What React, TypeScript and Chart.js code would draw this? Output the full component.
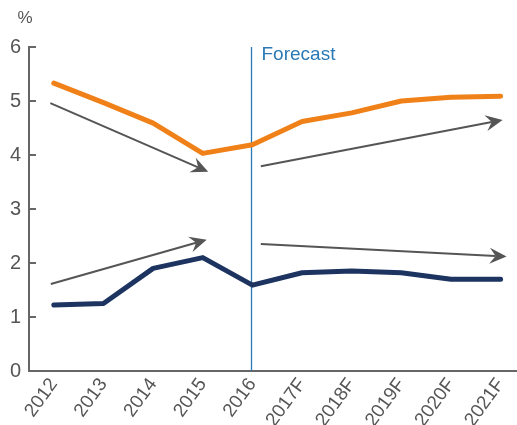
import React, { useEffect, useRef } from "react";
import { Chart, registerables } from "chart.js";

Chart.register(...registerables);

const years = ["2012", "2013", "2014", "2015", "2016", "2017F", "2018F", "2019F", "2020F", "2021F"];
const orangeValues = [5.33, 4.97, 4.59, 4.03, 4.19, 4.62, 4.78, 5.0, 5.07, 5.09];
const navyValues = [1.22, 1.25, 1.9, 2.1, 1.59, 1.82, 1.85, 1.82, 1.7, 1.7];
const yTickValues = [0, 1, 2, 3, 4, 5, 6];

const arrowStartX = [-0.07, 4.17, -0.06, 4.17];
const arrowStartY = [4.96, 3.79, 1.61, 2.35];
const arrowEndX = [3.11, 9.04, 3.08, 9.12];
const arrowEndY = [3.69, 4.65, 2.43, 2.12];

const forecastIndex = 4;
const forecastLabel = "Forecast";
const unitLabel = "%";

const FONT = "'Liberation Sans', Arial, Helvetica, sans-serif";
const AXIS_COLOR = "#666666";
const TEXT_COLOR = "#555555";
const ARROW_COLOR = "#555555";
const FORECAST_COLOR = "#2a7ab5";

const overlayPlugin = {
  id: "overlay",
  beforeDatasetsDraw(chart: any) {
    const { ctx, chartArea, scales } = chart;
    const xs = scales.x;
    const ys = scales.y;
    ctx.save();
    const fx = Math.round(xs.getPixelForValue(forecastIndex)) - 0.5;
    ctx.strokeStyle = FORECAST_COLOR;
    ctx.lineWidth = 1.3;
    ctx.beginPath();
    ctx.moveTo(fx, chartArea.top);
    ctx.lineTo(fx, chartArea.bottom);
    ctx.stroke();
    ctx.fillStyle = FORECAST_COLOR;
    ctx.font = `19px ${FONT}`;
    ctx.textAlign = "left";
    ctx.textBaseline = "middle";
    ctx.fillText(forecastLabel, fx + 10, chartArea.top + 8);
    ctx.fillStyle = TEXT_COLOR;
    ctx.font = `17px ${FONT}`;
    ctx.textAlign = "center";
    ctx.fillText(unitLabel, 25, 18);
    ctx.strokeStyle = AXIS_COLOR;
    ctx.lineWidth = 2;
    for (const v of yTickValues) {
      const y = Math.round(ys.getPixelForValue(v));
      ctx.beginPath();
      ctx.moveTo(chartArea.left, y);
      ctx.lineTo(chartArea.left + 7, y);
      ctx.stroke();
    }
    ctx.restore();
  },
  afterDatasetsDraw(chart: any) {
    const { ctx, scales } = chart;
    const xs = scales.x;
    const ys = scales.y;
    ctx.save();
    for (let i = 0; i < arrowStartX.length; i++) {
      const x0 = xs.getPixelForValue(arrowStartX[i]);
      const y0 = ys.getPixelForValue(arrowStartY[i]);
      const x1 = xs.getPixelForValue(arrowEndX[i]);
      const y1 = ys.getPixelForValue(arrowEndY[i]);
      const ang = Math.atan2(y1 - y0, x1 - x0);
      const len = 17;
      const half = 8;
      const notch = 11;
      const cos = Math.cos(ang);
      const sin = Math.sin(ang);
      const bx = x1 - len * cos;
      const by = y1 - len * sin;
      const nx = x1 - notch * cos;
      const ny = y1 - notch * sin;
      ctx.strokeStyle = ARROW_COLOR;
      ctx.lineWidth = 2;
      ctx.beginPath();
      ctx.moveTo(x0, y0);
      ctx.lineTo(nx, ny);
      ctx.stroke();
      ctx.fillStyle = ARROW_COLOR;
      ctx.beginPath();
      ctx.moveTo(x1, y1);
      ctx.lineTo(bx - half * sin, by + half * cos);
      ctx.lineTo(nx, ny);
      ctx.lineTo(bx + half * sin, by - half * cos);
      ctx.closePath();
      ctx.fill();
    }
    ctx.restore();
  },
};

export default function App() {
  const canvasRef = useRef<HTMLCanvasElement | null>(null);

  useEffect(() => {
    if (!canvasRef.current) return;
    const chart = new Chart(canvasRef.current, {
      type: "line",
      data: {
        datasets: [
          {
            label: "Orange",
            data: orangeValues.map((v, i) => ({ x: i, y: v })),
            borderColor: "#f08119",
            borderWidth: 5,
            pointRadius: 0,
            borderJoinStyle: "round",
            borderCapStyle: "round",
            tension: 0,
            fill: false,
          },
          {
            label: "Navy",
            data: navyValues.map((v, i) => ({ x: i, y: v })),
            borderColor: "#1d3461",
            borderWidth: 5,
            pointRadius: 0,
            borderJoinStyle: "round",
            borderCapStyle: "round",
            tension: 0,
            fill: false,
          },
        ],
      },
      options: {
        animation: false,
        responsive: false,
        maintainAspectRatio: false,
        layout: { padding: { top: 47, left: 0, right: 0, bottom: 0 } },
        plugins: {
          legend: { display: false },
          tooltip: { enabled: false },
        },
        scales: {
          x: {
            type: "linear",
            min: -0.5,
            max: 9.33,
            grid: { display: false, drawTicks: false },
            border: { display: true, color: AXIS_COLOR, width: 2 },
            afterBuildTicks: (axis: any) => {
              axis.ticks = years.map((_, i) => ({ value: i }));
            },
            afterFit: (axis: any) => {
              axis.height = 54;
              axis.paddingLeft = 0;
              axis.paddingRight = 0;
            },
            ticks: {
              autoSkip: false,
              minRotation: 54,
              maxRotation: 54,
              padding: 3,
              color: TEXT_COLOR,
              font: { family: FONT, size: 19 },
              callback: (v: any) => years[Math.round(Number(v))] ?? "",
            },
          },
          y: {
            type: "linear",
            min: 0,
            max: 6,
            grid: { display: false, drawTicks: false },
            border: { display: true, color: AXIS_COLOR, width: 2 },
            afterBuildTicks: (axis: any) => {
              axis.ticks = yTickValues.map((v) => ({ value: v }));
            },
            afterFit: (axis: any) => {
              axis.width = 29;
              axis.paddingTop = 0;
              axis.paddingBottom = 0;
            },
            ticks: {
              padding: 8,
              color: TEXT_COLOR,
              font: { family: FONT, size: 20 },
              callback: (v: any) => String(v),
            },
          },
        },
      },
      plugins: [overlayPlugin],
    });
    return () => chart.destroy();
  }, []);

  return (
    <div style={{ position: "fixed", left: 0, top: 0, width: 517, height: 425, background: "#fff" }}>
      <canvas ref={canvasRef} width={517} height={425} style={{ width: 517, height: 425 }} />
    </div>
  );
}
